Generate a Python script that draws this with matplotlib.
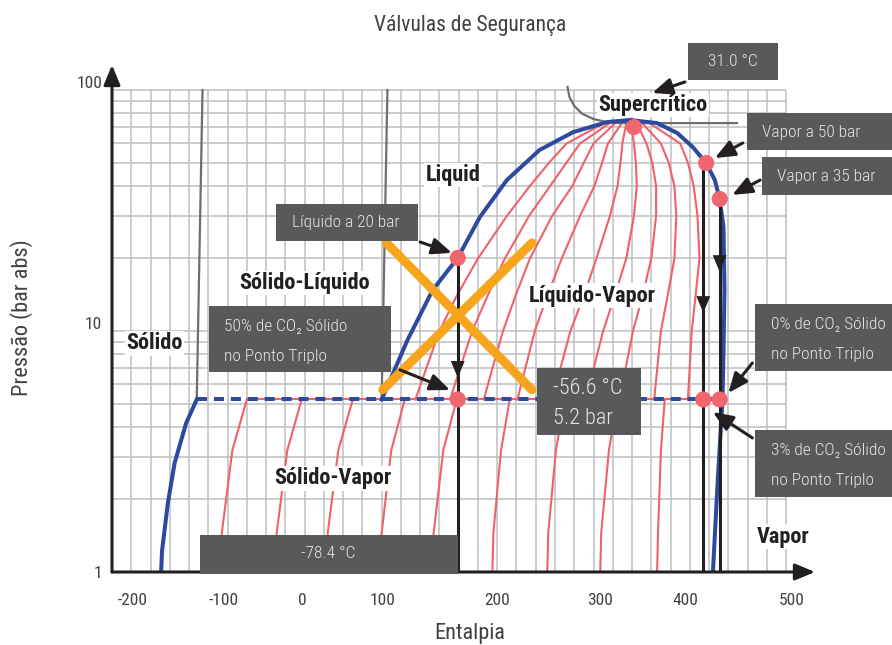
import numpy as np
import matplotlib.pyplot as plt
from matplotlib.patches import Rectangle
from matplotlib.transforms import ScaledTranslation

plt.rcParams['font.family'] = ['Roboto Condensed', 'DejaVu Sans']

W, H = 892, 645

BLUE = '#2e4a9e'
RED = '#f0616b'
DOT = '#f0666e'
GRAY = '#6d6e71'
GRID = '#bcbec0'
ORANGE = '#f7a51c'
INK = '#231f20'
TXT = '#414042'
BOXC = '#58595b'
BOXT = '#e6e7e8'

# ---- data (enthalpy h, pressure P in bar abs) ----
xtick_pos = [-179, -84, -2, 81, 200, 307, 395, 506]
xtick_labels = ['-200', '-100', '0', '100', '200', '300', '400', '500']

# saturation dome: liquid side -> critical point -> vapour side down to 1 bar
dome_h = [80, 107, 133, 159, 182, 210, 244, 279, 314, 338, 366, 387, 403, 417,
          426, 431, 435, 436, 435, 434, 429, 424]
dome_p = [5.2, 9.2, 14.8, 20.1, 29.7, 42.3, 56.4, 66.9, 73.6, 75.1, 72.9, 66.3,
          58.0, 49.8, 42.3, 35.3, 27.0, 14.8, 8.3, 5.2, 2.4, 1.0]

# solid side of the sublimation curve
solid_h = [-112, -123, -135, -142, -148, -149]
solid_p = [5.2, 4.15, 2.83, 1.93, 1.23, 1.0]

# triple line
triple_p = 5.2
triple_h = [-112, 433]
triple_red_h = [-60, 433]

# melting lines (gray)
melt1_h = [-112, -106]
melt2_h = [80, 86]
melt_p = [5.2, 100]

# 31.0 C isotherm (gray)
crit_h = [273, 275, 280, 288, 300, 314, 327, 449]
crit_p = [103, 93.5, 86.0, 79.8, 75.8, 73.6, 72.9, 72.9]

# quality lines inside the liquid-vapour dome
q_p = [5.2, 10, 14, 20, 30, 40, 50, 60, 72.5]
q_lines = [
    [115, 140, 158, 180, 210, 234, 254, 272, 310],
    [151, 174, 190, 208, 233, 255, 272, 286, 316],
    [186, 206, 219, 234, 257, 278, 290, 300, 322],
    [221, 239, 252, 267, 286, 301, 309, 315, 329],
    [257, 276, 290, 303, 317, 325, 328, 330, 334],
    [292, 310, 322, 334, 342, 345, 344, 342, 339],
    [327, 341, 351, 360, 365, 365, 361, 355, 345],
    [363, 370, 377, 384, 386, 384, 378, 370, 351],
    [398, 402, 406, 410, 408, 404, 398, 390, 359],
]

# quality lines in the solid-vapour region
sv_p = [5.2, 3.2, 1.45, 1.0]
sv_lines = [
    [-60, -75, -86, -88],
    [-3, -18, -29, -31],
    [50, 35, 24, 22],
    [104, 90, 80, 78],
    [158, 144, 134, 132],
    [213, 204, 196, 195],
    [270, 261, 253, 252],
    [325, 316, 308, 307],
    [374, 370, 367, 366],
]

# orange cross
cross1_h, cross1_p = [85, 236], [23.2, 5.7]
cross2_h, cross2_p = [81, 236], [5.7, 23.2]

# process lines (black) with arrow heads
proc_h = [159, 414, 431]
proc_top = [20.1, 49.8, 35.3]
proc_tip = [6.4, 11.9, 17.6]

# state points
dot_h = [159, 159, 342, 417, 431, 414, 431]
dot_p = [20.1, 5.2, 70.2, 49.8, 35.3, 5.2, 5.2]

# region labels
regions = [
    ('Liquid', 154, 44.4),
    ('Supercrítico', 362, 86.7),
    ('Sólido-Líquido', 0, 15.8),
    ('Sólido', -156, 8.9),
    ('Líquido-Vapor', 299, 14.0),
    ('Sólido-Vapor', 29, 2.45),
    ('Vapor', 497, 1.4),
]

# callout arrows: (tail h, tail P, tip h, tip P)
pointers = [
    (395, 108, 361, 97.2),
    (455, 60.3, 426, 52.2),
    (473, 42.3, 444, 36.7),
    (120, 23.4, 153, 21.1),
    (99, 6.9, 151, 5.69),
    (465, 7.37, 440, 5.53),
    (465, 3.6, 424, 4.61),
]

# annotation boxes in pixel coordinates: x0, y0, x1, y1
boxes = [
    (688, 43, 778, 80), (747, 113, 892, 150), (762, 157, 892, 195),
    (276, 204, 418, 241), (209, 306, 391, 372), (537, 368, 641, 435),
    (755, 304, 892, 371), (755, 430, 892, 497), (200, 535, 458, 574),
]
# box texts: text, x, y (pixels), ha, size
box_texts = [
    ('31.0 °C', 733, 62, 'center', 12.5),
    ('Vapor a 50 bar', 762, 132, 'left', 12.5),
    ('Vapor a 35 bar', 777, 177, 'left', 12.5),
    ('Líquido a 20 bar', 292, 223, 'left', 12.5),
    ('50% de CO₂ Sólido', 224, 326, 'left', 12.5),
    ('no Ponto Triplo', 224, 356, 'left', 12.5),
    ('-56.6 °C', 553, 388, 'left', 16),
    ('5.2 bar', 553, 418, 'left', 16),
    ('0% de CO₂ Sólido', 771, 325, 'left', 12.5),
    ('no Ponto Triplo', 771, 354, 'left', 12.5),
    ('3% de CO₂ Sólido', 771, 450, 'left', 12.5),
    ('no Ponto Triplo', 771, 481, 'left', 12.5),
    ('-78.4 °C', 328, 554, 'center', 12.5),
]

fig = plt.figure(figsize=(W / 100, H / 100), dpi=100)
ax = fig.add_axes([112 / W, (H - 572) / H, (815 - 112) / W, (572 - 65) / H])
ax.set_yscale('log')
ax.set_xlim(-200, 530)
ax.set_ylim(1, 127)
for s in ax.spines.values():
    s.set_visible(False)
ax.set_xticks(xtick_pos, xtick_labels)
ax.set_yticks([1, 10, 100], ['1', '10', '100'])
ax.minorticks_off()
ax.tick_params(length=0, labelsize=12.5, colors=TXT)
ax.tick_params(axis='x', pad=15)
ax.tick_params(axis='y', pad=7)
# the 10 and 100 labels sit a little above their grid lines
for lab in ax.get_yticklabels()[1:]:
    lab.set_transform(lab.get_transform() +
                      ScaledTranslation(0, 6 / 72, fig.dpi_scale_trans))

# grid
grid_p = list(range(1, 10)) + list(range(10, 101, 10))
ax.vlines(np.arange(-200, 501, 20), 1, 100, color=GRID, lw=1.1, zorder=0)
ax.hlines(grid_p, -200, 500, color=GRID, lw=1.1, zorder=0)

# axes with arrows
arrow_ax = dict(arrowstyle='-|>,head_length=0.6,head_width=0.25', lw=2.2,
                color=INK, shrinkA=0, shrinkB=0, mutation_scale=20)
ax.annotate('', xy=(530, 1), xytext=(-200, 1), arrowprops=arrow_ax,
            annotation_clip=False, zorder=6)
ax.annotate('', xy=(-200, 127), xytext=(-200, 1), arrowprops=arrow_ax,
            annotation_clip=False, zorder=6)

# red lines
for line in q_lines:
    ax.plot(line, q_p, color=RED, lw=1.5, zorder=2)
for line in sv_lines:
    ax.plot(line, sv_p, color=RED, lw=1.5, zorder=2)
ax.plot(triple_red_h, [triple_p] * 2, color=RED, lw=1.5, zorder=2)

# gray lines
ax.plot(melt1_h, melt_p, color=GRAY, lw=1.6, zorder=2)
ax.plot(melt2_h, melt_p, color=GRAY, lw=1.6, zorder=2)
ax.plot(crit_h, crit_p, color=GRAY, lw=1.6, zorder=2, clip_on=False)

# blue lines
ax.plot(dome_h, dome_p, color=BLUE, lw=2.9, zorder=3)
ax.plot(solid_h, solid_p, color=BLUE, lw=2.9, zorder=3)
ax.plot(triple_h, [triple_p] * 2, color=BLUE, lw=2.9, dashes=(2.5, 1.7), zorder=3)

# process lines
for h, top, tip in zip(proc_h, proc_top, proc_tip):
    ax.plot([h, h], [top, 1], color=INK, lw=2.2, zorder=4)
    ax.annotate('', xy=(h, tip), xytext=(h, tip * 1.15),
                arrowprops=dict(arrowstyle='-|>,head_length=0.6,head_width=0.25',
                                lw=0, color=INK, shrinkA=0, shrinkB=0,
                                mutation_scale=20), zorder=4)

# orange cross
ax.plot(cross1_h, cross1_p, color=ORANGE, lw=6.5, solid_capstyle='round', zorder=5)
ax.plot(cross2_h, cross2_p, color=ORANGE, lw=6.5, solid_capstyle='round', zorder=5)

# points
ax.scatter(dot_h, dot_p, s=135, color=DOT, edgecolors='none', zorder=7)

# region labels
for txt, h, p in regions:
    ax.text(h, p, txt, ha='center', va='center', fontsize=16, fontweight='bold',
            color=INK, zorder=4,
            bbox=dict(fc='white', ec='none', pad=1))

# callout arrows
for th, tp, hh, hp in pointers:
    ax.annotate('', xy=(hh, hp), xytext=(th, tp),
                arrowprops=dict(arrowstyle='-|>,head_length=0.6,head_width=0.25',
                                lw=2.2, color=INK, shrinkA=0, shrinkB=0,
                                mutation_scale=20), zorder=8)

# boxes
for x0, y0, x1, y1 in boxes:
    fig.add_artist(Rectangle((x0 / W, 1 - y1 / H), (x1 - x0) / W, (y1 - y0) / H,
                             transform=fig.transFigure, fc=BOXC, ec='none',
                             zorder=10))
for txt, x, y, ha, size in box_texts:
    fig.text(x / W, 1 - y / H, txt, ha=ha, va='center', fontsize=size,
             color=BOXT, fontweight='light', zorder=11)

fig.text(470 / W, 1 - 25 / H, 'Válvulas de Segurança', ha='center', va='center',
         fontsize=15.5, color=TXT)
fig.text(470 / W, 1 - 633 / H, 'Entalpia', ha='center', va='center',
         fontsize=16, color=TXT)
fig.text(22 / W, 1 - 318 / H, 'Pressão (bar abs)', ha='center', va='center',
         fontsize=16, rotation=90, color=TXT)

fig.savefig('out.png', dpi=100, facecolor='white')
